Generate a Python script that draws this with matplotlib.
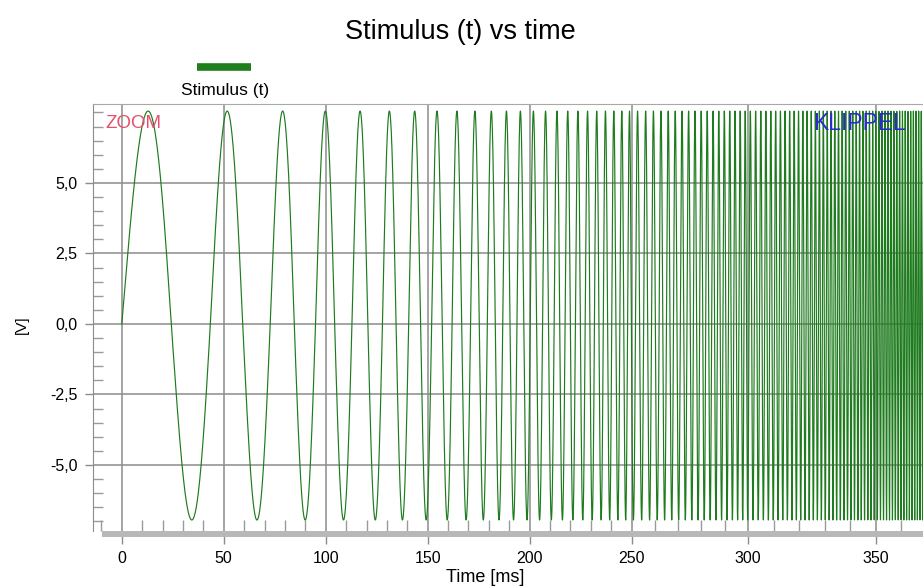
import matplotlib
matplotlib.use("Agg")
import matplotlib.pyplot as plt
from matplotlib.lines import Line2D
from matplotlib.ticker import MultipleLocator, FuncFormatter
import numpy as np

# stimulus parameters (log sweep)
f_start = 18.0        # Hz at t = 0
sweep_rate = 10.9     # 1/s, f(t) = f_start * exp(sweep_rate * t)
peak_v = 7.55         # V, positive peaks
trough_v = -6.95      # V, negative peaks
t_end_ms = 370.0
fs = 48000            # samples per second

x_ticks = [0, 50, 100, 150, 200, 250, 300, 350]
y_ticks = [-5.0, -2.5, 0.0, 2.5, 5.0]

t = np.arange(0, t_end_ms / 1000, 1 / fs)
phase = 2 * np.pi * f_start * (np.exp(sweep_rate * t) - 1) / sweep_rate
s = np.sin(phase)
v = np.where(s > 0, s * peak_v, -s * trough_v)
t_ms = t * 1000

plt.rcParams['font.family'] = ['Liberation Sans', 'DejaVu Sans']

# the time axis of the original is stretched past 250 ms
knots_ms = [-100, 250, 300, 350, 500]
knots_u = [-100, 250, 307, 369.75, 558]


def fwd(x):
    return np.interp(x, knots_ms, knots_u)


def inv(u):
    return np.interp(u, knots_u, knots_ms)


fig = plt.figure(figsize=(9.23, 5.87), dpi=100)
ax = fig.add_axes([93 / 923, 1 - 531 / 587, 830 / 923, 427 / 587])
ax.set_xscale('function', functions=(fwd, inv))

ax.plot(t_ms, v, color='#1e7b1e', lw=0.85)

ax.set_xlim(-14.1, 368.4)
ax.set_ylim(-7.34, 7.80)

ax.xaxis.set_major_locator(MultipleLocator(50))
ax.xaxis.set_minor_locator(MultipleLocator(10))
ax.yaxis.set_major_locator(MultipleLocator(2.5))
ax.yaxis.set_minor_locator(MultipleLocator(0.5))
ax.set_xticks(x_ticks)
ax.set_yticks(y_ticks)
ax.xaxis.set_major_formatter(FuncFormatter(lambda x, p: f"{x:.0f}"))
ax.yaxis.set_major_formatter(FuncFormatter(lambda y, p: f"{y:.1f}".replace('.', ',')))

ax.grid(which='major', color='#8c8c8c', lw=1.1)
ax.set_axisbelow(True)

ax.tick_params(which='major', axis='x', direction='out', length=9.5, width=1,
               color='#8c8c8c', labelsize=11.5, pad=5, bottom=True)
ax.tick_params(which='major', axis='y', direction='out', length=6, width=1,
               color='#8c8c8c', labelsize=11.5, pad=5)
ax.tick_params(which='minor', axis='x', direction='in', length=8, width=1,
               color='#9a9a9a')
ax.tick_params(which='minor', axis='y', direction='in', length=7, width=1,
               color='#9a9a9a')

for side in ['right', 'bottom']:
    ax.spines[side].set_visible(False)
ax.spines['left'].set_color('#8c8c8c')
ax.spines['top'].set_color('#a8a8a8')

# grey bar under the plot
ax.add_line(Line2D([9 / 830, 1], [-3 / 427, -3 / 427], transform=ax.transAxes,
                   color='#b8b8b8', lw=4.3, clip_on=False, solid_capstyle='butt'))

fig.text(460 / 923, 1 - 32 / 587, 'Stimulus (t) vs time', ha='center', va='center',
         fontsize=19.5)
fig.text(22 / 923, 1 - 325 / 587, '[V]', rotation=90, ha='center', va='center',
         fontsize=11)
fig.text(485 / 923, 1 - 577 / 587, 'Time [ms]', ha='center', va='center',
         fontsize=13)

# legend
fig.add_artist(Line2D([197 / 923, 251 / 923], [1 - 67 / 587, 1 - 67 / 587],
                      transform=fig.transFigure, color='#1f7f1f', lw=5.5,
                      solid_capstyle='butt'))
fig.text(225 / 923, 1 - 90 / 587, 'Stimulus (t)', ha='center', va='center',
         fontsize=12.5)

fig.text(105 / 923, 1 - 124 / 587, 'ZOOM', color='#e4506c', ha='left',
         va='center', fontsize=13.5)
fig.text(813 / 923, 1 - 124 / 587, 'KLIPPEL', color='#2a2ad0', ha='left',
         va='center', fontsize=16.5)

fig.savefig('out.png', dpi=100)
